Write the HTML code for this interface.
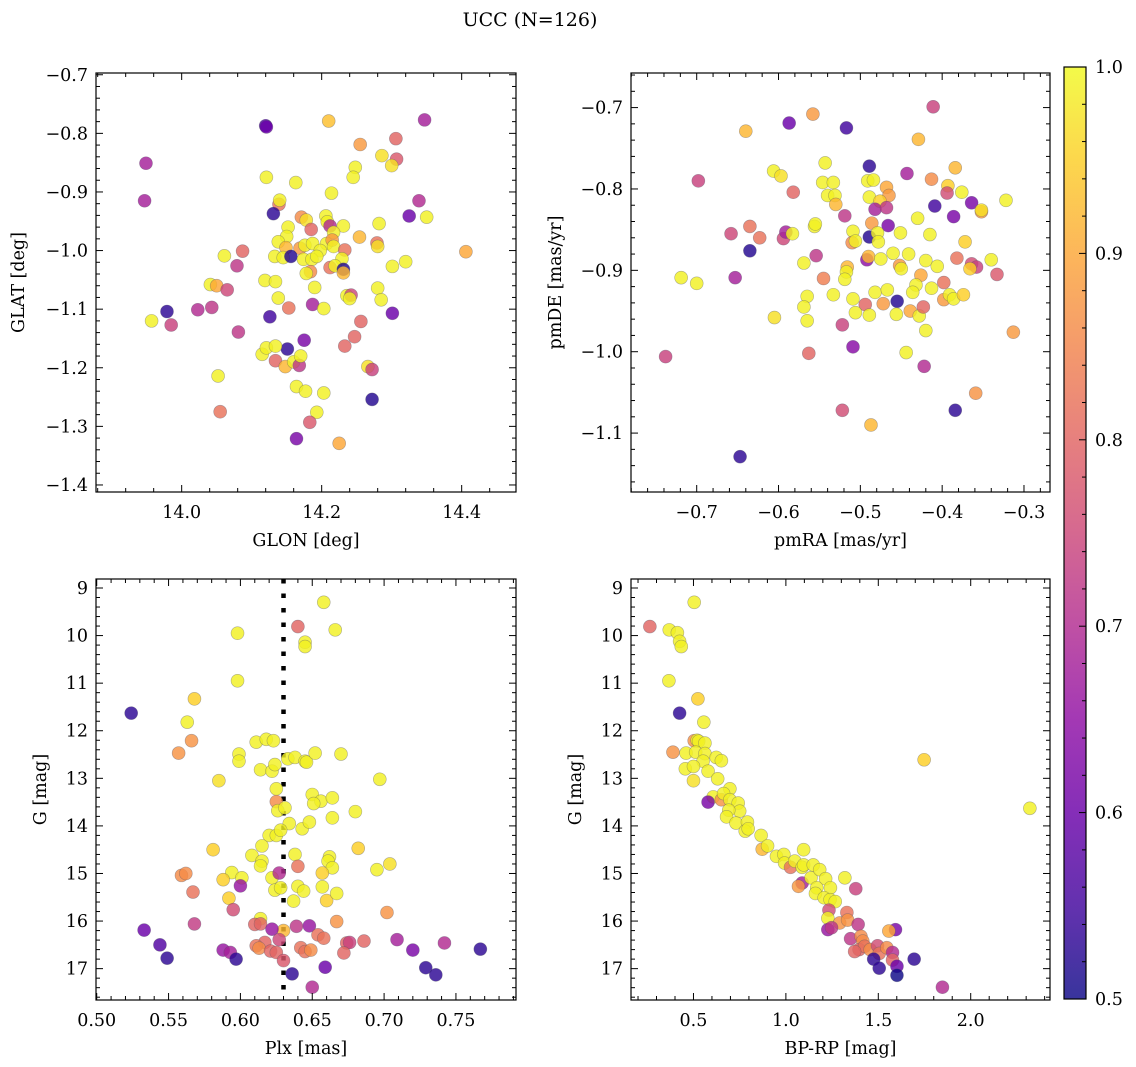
<!DOCTYPE html>
<html><head><meta charset="utf-8"><style>
html,body{margin:0;padding:0;background:#fff;}
svg{display:block;font-family:"DejaVu Serif","Liberation Serif",serif;}
</style></head><body>
<svg id="fig" width="1136" height="1067" viewBox="0 0 1136 1067" xmlns="http://www.w3.org/2000/svg">
<text x="530" y="26" font-size="19" text-anchor="middle">UCC (N=126)</text>
</svg>
<script>
// ---- Panel 1: GLON / GLAT ----
const glon = [14.120,14.121,14.210,14.347,13.949,13.947,14.255,14.306,14.307,14.286,14.300,14.248,14.245,14.121,14.163,14.214,14.139,14.140,14.131,14.339,14.325,14.350,14.171,14.178,14.185,14.206,14.208,14.212,14.231,14.282,14.152,14.150,14.217,14.254,14.138,14.149,14.169,14.176,14.187,14.207,14.215,14.217,14.279,14.280,14.233,14.198,14.087,14.061,14.406,14.133,14.145,14.156,14.174,14.186,14.193,14.229,14.079,14.301,14.320,14.212,14.219,14.231,14.231,14.184,14.178,14.119,14.134,14.041,14.050,14.065,14.190,14.280,14.138,14.236,14.242,14.240,14.285,13.979,14.023,14.043,14.153,14.187,14.203,14.301,13.957,13.985,14.126,14.256,14.081,14.175,14.151,14.115,14.121,14.134,14.233,14.247,14.134,14.148,14.160,14.168,14.170,14.266,14.272,14.052,14.164,14.177,14.203,14.272,14.055,14.193,14.183,14.164,14.225];
const glat = [-0.787,-0.789,-0.779,-0.777,-0.851,-0.915,-0.819,-0.809,-0.844,-0.838,-0.855,-0.858,-0.875,-0.875,-0.884,-0.902,-0.921,-0.914,-0.937,-0.915,-0.941,-0.943,-0.943,-0.948,-0.964,-0.941,-0.951,-0.958,-0.958,-0.954,-0.960,-0.976,-0.969,-0.977,-0.985,-0.995,-0.996,-0.991,-0.988,-0.988,-0.982,-0.993,-0.987,-0.993,-0.999,-1.000,-1.001,-1.009,-1.002,-1.010,-1.012,-1.010,-1.015,-1.015,-1.010,-1.014,-1.026,-1.027,-1.019,-1.029,-1.026,-1.032,-1.038,-1.036,-1.039,-1.051,-1.053,-1.058,-1.060,-1.067,-1.063,-1.064,-1.081,-1.077,-1.076,-1.082,-1.084,-1.104,-1.101,-1.097,-1.098,-1.092,-1.099,-1.107,-1.120,-1.127,-1.113,-1.121,-1.139,-1.153,-1.168,-1.177,-1.166,-1.163,-1.163,-1.147,-1.188,-1.198,-1.190,-1.196,-1.180,-1.198,-1.203,-1.214,-1.232,-1.240,-1.243,-1.254,-1.275,-1.276,-1.293,-1.321,-1.329];
const c1 = [0.57,0.60,0.93,0.68,0.68,0.68,0.88,0.80,0.78,0.97,0.97,0.99,0.99,0.99,0.99,0.99,0.82,0.99,0.53,0.70,0.60,0.99,0.86,0.97,0.80,0.99,0.99,0.70,0.99,0.99,0.99,0.99,0.99,0.92,0.99,0.92,0.88,0.99,0.99,0.99,0.88,0.99,0.82,0.97,0.82,0.99,0.80,0.99,0.90,0.99,0.99,0.52,0.99,0.99,0.99,0.99,0.72,0.99,0.99,0.82,0.99,0.52,0.92,0.86,0.99,0.99,0.99,0.99,0.90,0.75,0.99,0.99,0.99,0.99,0.75,0.99,0.99,0.53,0.70,0.72,0.82,0.68,0.99,0.60,0.99,0.74,0.55,0.80,0.72,0.62,0.53,0.99,0.99,0.99,0.80,0.80,0.80,0.92,0.99,0.72,0.99,0.97,0.74,0.99,0.99,0.99,0.99,0.52,0.82,0.99,0.78,0.62,0.90];

// ---- Panel 2: pmRA / pmDE ----
const pmra = [-0.411,-0.558,-0.587,-0.517,-0.640,-0.429,-0.543,-0.489,-0.443,-0.384,-0.698,-0.606,-0.597,-0.546,-0.533,-0.491,-0.484,-0.468,-0.465,-0.413,-0.393,-0.394,-0.376,-0.582,-0.540,-0.531,-0.530,-0.489,-0.476,-0.482,-0.468,-0.409,-0.364,-0.322,-0.352,-0.352,-0.519,-0.386,-0.430,-0.635,-0.658,-0.623,-0.594,-0.591,-0.583,-0.556,-0.555,-0.486,-0.466,-0.489,-0.509,-0.510,-0.506,-0.479,-0.478,-0.451,-0.415,-0.372,-0.635,-0.554,-0.569,-0.492,-0.490,-0.475,-0.460,-0.441,-0.452,-0.450,-0.420,-0.406,-0.382,-0.364,-0.358,-0.366,-0.340,-0.333,-0.719,-0.700,-0.653,-0.545,-0.516,-0.517,-0.519,-0.426,-0.398,-0.432,-0.436,-0.413,-0.398,-0.391,-0.386,-0.374,-0.565,-0.533,-0.509,-0.482,-0.467,-0.569,-0.494,-0.472,-0.455,-0.506,-0.489,-0.456,-0.439,-0.428,-0.423,-0.605,-0.565,-0.420,-0.313,-0.522,-0.509,-0.563,-0.444,-0.738,-0.422,-0.359,-0.522,-0.384,-0.487,-0.647];
const pmde = [-0.699,-0.708,-0.719,-0.725,-0.729,-0.739,-0.768,-0.772,-0.781,-0.774,-0.790,-0.778,-0.784,-0.792,-0.792,-0.790,-0.789,-0.798,-0.808,-0.788,-0.796,-0.805,-0.804,-0.804,-0.808,-0.808,-0.819,-0.810,-0.815,-0.825,-0.823,-0.821,-0.817,-0.814,-0.828,-0.826,-0.833,-0.834,-0.836,-0.846,-0.855,-0.860,-0.861,-0.853,-0.855,-0.846,-0.843,-0.842,-0.845,-0.859,-0.852,-0.866,-0.864,-0.854,-0.865,-0.854,-0.856,-0.865,-0.876,-0.882,-0.891,-0.887,-0.883,-0.886,-0.879,-0.880,-0.894,-0.898,-0.888,-0.895,-0.885,-0.892,-0.896,-0.898,-0.887,-0.905,-0.909,-0.916,-0.909,-0.910,-0.896,-0.902,-0.911,-0.906,-0.915,-0.918,-0.927,-0.922,-0.936,-0.930,-0.935,-0.930,-0.932,-0.930,-0.935,-0.927,-0.924,-0.945,-0.942,-0.941,-0.938,-0.952,-0.955,-0.954,-0.950,-0.956,-0.945,-0.958,-0.962,-0.974,-0.976,-0.967,-0.994,-1.002,-1.001,-1.006,-1.018,-1.051,-1.072,-1.072,-1.090,-1.129];
const c2 = [0.74,0.88,0.60,0.55,0.92,0.92,0.99,0.53,0.68,0.92,0.74,0.99,0.97,0.99,0.99,0.99,0.99,0.90,0.88,0.86,0.95,0.76,0.99,0.80,0.99,0.99,0.92,0.99,0.95,0.68,0.72,0.55,0.62,0.99,0.88,0.97,0.72,0.62,0.99,0.82,0.75,0.82,0.75,0.68,0.99,0.99,0.99,0.88,0.62,0.52,0.99,0.86,0.99,0.99,0.99,0.99,0.99,0.95,0.52,0.72,0.99,0.65,0.92,0.99,0.99,0.99,0.88,0.99,0.99,0.99,0.82,0.76,0.74,0.95,0.99,0.78,0.99,0.99,0.68,0.84,0.92,0.99,0.99,0.90,0.82,0.99,0.99,0.99,0.88,0.99,0.99,0.95,0.99,0.99,0.99,0.99,0.99,0.99,0.80,0.88,0.52,0.99,0.99,0.99,0.90,0.99,0.80,0.97,0.99,0.99,0.88,0.74,0.64,0.80,0.99,0.74,0.70,0.87,0.76,0.53,0.92,0.53];

// ---- Panel 3: Plx / G ----
const plx3 = [0.658,0.640,0.666,0.598,0.645,0.645,0.598,0.568,0.524,0.563,0.566,0.557,0.611,0.618,0.623,0.599,0.599,0.633,0.638,0.645,0.646,0.652,0.670,0.614,0.622,0.624,0.585,0.697,0.625,0.625,0.626,0.631,0.650,0.656,0.651,0.664,0.664,0.680,0.634,0.643,0.648,0.620,0.625,0.628,0.615,0.581,0.682,0.608,0.615,0.614,0.638,0.640,0.662,0.661,0.664,0.704,0.695,0.559,0.562,0.594,0.588,0.601,0.622,0.627,0.624,0.628,0.640,0.644,0.657,0.657,0.660,0.667,0.567,0.592,0.637,0.600,0.595,0.702,0.614,0.568,0.610,0.614,0.630,0.622,0.639,0.648,0.667,0.533,0.654,0.658,0.627,0.617,0.611,0.613,0.621,0.625,0.630,0.642,0.645,0.649,0.674,0.676,0.672,0.686,0.709,0.742,0.720,0.767,0.544,0.549,0.588,0.593,0.597,0.636,0.659,0.729,0.736,0.650];
const g3 = [9.30,9.81,9.88,9.95,10.14,10.23,10.95,11.33,11.63,11.82,12.21,12.47,12.24,12.18,12.21,12.49,12.64,12.59,12.56,12.64,12.66,12.47,12.49,12.82,12.85,12.71,13.05,13.02,13.22,13.49,13.68,13.62,13.34,13.48,13.53,13.41,13.83,13.70,13.95,14.06,13.92,14.20,14.20,14.09,14.42,14.50,14.47,14.62,14.74,14.84,14.60,14.85,14.65,14.74,14.88,14.80,14.92,15.04,15.00,14.98,15.13,15.09,15.09,14.99,15.35,15.30,15.27,15.37,14.99,15.28,15.57,15.42,15.39,15.52,15.58,15.26,15.76,15.82,15.95,16.06,16.07,16.06,16.20,16.17,16.11,16.10,16.01,16.19,16.29,16.36,16.39,16.45,16.52,16.57,16.63,16.66,16.83,16.56,16.64,16.61,16.46,16.45,16.67,16.42,16.39,16.46,16.61,16.59,16.50,16.78,16.61,16.66,16.80,17.11,16.97,16.98,17.13,17.39];
const c3 = [0.99,0.80,0.99,0.99,0.99,0.99,0.99,0.95,0.53,0.99,0.87,0.87,0.99,0.99,0.99,0.99,0.99,0.99,0.99,0.99,0.99,0.99,0.99,0.99,0.99,0.99,0.97,0.99,0.99,0.86,0.99,0.99,0.99,0.99,0.99,0.99,0.99,0.99,0.99,0.99,0.99,0.99,0.99,0.99,0.99,0.95,0.95,0.99,0.99,0.99,0.99,0.82,0.99,0.99,0.99,0.97,0.99,0.86,0.86,0.99,0.95,0.99,0.99,0.70,0.99,0.99,0.99,0.99,0.95,0.99,0.95,0.99,0.82,0.95,0.99,0.66,0.76,0.87,0.99,0.73,0.80,0.80,0.92,0.66,0.72,0.66,0.87,0.60,0.82,0.82,0.75,0.80,0.82,0.86,0.80,0.80,0.78,0.82,0.82,0.86,0.80,0.74,0.80,0.80,0.68,0.70,0.62,0.53,0.57,0.53,0.66,0.68,0.53,0.53,0.60,0.53,0.53,0.70];

// ---- Panel 4: BP-RP / G ----
const bprp4 = [0.504,0.264,0.369,0.413,0.425,0.434,0.367,0.524,0.425,0.556,0.504,0.520,0.528,0.562,0.389,0.460,0.512,0.562,0.552,0.623,0.651,0.456,0.500,0.579,0.500,0.631,0.697,0.607,0.651,0.579,0.663,0.697,0.742,0.750,0.691,0.679,0.730,0.792,0.780,0.796,0.866,0.872,0.901,0.949,0.989,1.096,0.993,1.025,1.048,1.088,1.088,1.068,1.096,1.148,1.136,1.183,1.215,1.319,1.167,1.241,1.378,1.160,1.207,1.239,1.267,1.233,1.227,1.330,1.291,1.334,1.391,1.227,1.247,1.593,1.557,1.350,1.406,1.416,1.396,1.426,1.456,1.496,1.505,1.546,1.577,1.577,1.475,1.505,1.601,1.601,1.694,1.847,1.748,2.320,1.372];
const g4 = [9.30,9.81,9.88,9.94,10.12,10.23,10.95,11.33,11.63,11.82,12.21,12.20,12.22,12.26,12.45,12.47,12.45,12.48,12.64,12.56,12.63,12.80,12.75,12.85,13.05,13.01,13.22,13.39,13.45,13.50,13.32,13.45,13.52,13.69,13.67,13.81,13.94,13.92,14.11,14.06,14.20,14.49,14.42,14.64,14.60,14.50,14.78,14.87,14.74,14.87,15.20,15.27,14.82,14.82,15.09,14.92,15.11,15.09,15.30,15.30,15.32,15.42,15.51,15.55,15.59,15.77,15.94,15.82,16.04,15.98,16.07,16.18,16.14,16.18,16.21,16.37,16.32,16.42,16.60,16.53,16.60,16.52,16.68,16.56,16.66,16.82,16.80,16.99,16.95,17.14,16.80,17.39,12.61,13.63,16.64];
const c4 = [0.99,0.80,0.99,0.99,0.99,0.99,0.99,0.95,0.53,0.99,0.87,0.99,0.99,0.99,0.87,0.99,0.99,0.99,0.99,0.99,0.99,0.99,0.99,0.99,0.97,0.99,0.99,0.99,0.87,0.62,0.99,0.99,0.99,0.99,0.99,0.99,0.99,0.99,0.99,0.99,0.99,0.92,0.99,0.99,0.99,0.99,0.99,0.82,0.99,0.99,0.68,0.88,0.99,0.99,0.99,0.99,0.99,0.99,0.99,0.99,0.74,0.99,0.99,0.99,0.99,0.76,0.99,0.82,0.87,0.87,0.72,0.66,0.72,0.62,0.90,0.72,0.86,0.86,0.80,0.82,0.86,0.76,0.82,0.86,0.70,0.80,0.53,0.53,0.60,0.50,0.53,0.70,0.95,0.99,0.80];

// colorbar ticks
const cbarTicks = [0.5,0.6,0.7,0.8,0.9,1.0];

const NS = "http://www.w3.org/2000/svg";
const svg = document.getElementById('fig');
const plasmaStops = ["#0d0887","#41049d","#6a00a8","#8f0da4","#b12a90","#cc4778","#e16462","#f2844b","#fca636","#fcce25","#f0f921"];
function hex(h){return [parseInt(h.substr(1,2),16),parseInt(h.substr(3,2),16),parseInt(h.substr(5,2),16)];}
function plasma(t){
  t=Math.max(0,Math.min(1,t));
  const f=t*10, i=Math.min(9,Math.floor(f)), r=f-i;
  const a=hex(plasmaStops[i]), b=hex(plasmaStops[i+1]);
  return 'rgb('+a.map((v,k)=>Math.round(v+(b[k]-v)*r)).join(',')+')';
}
function el(tag, attrs, parent){
  const e=document.createElementNS(NS,tag);
  for(const k in attrs) e.setAttribute(k,attrs[k]);
  (parent||svg).appendChild(e);
  return e;
}
function scale(d0,d1,r0,r1){return v=>r0+(v-d0)/(d1-d0)*(r1-r0);}
function fmt(v,dec){const s=Math.abs(v).toFixed(dec);return (v< -1e-9?'\u2212':'')+s;}
const FS=17.5;

function panel(cfg){
  const g=el('g',{});
  
  
  const sx=scale(cfg.xd[0],cfg.xd[1],cfg.x0,cfg.x1);
  const sy=scale(cfg.yd[0],cfg.yd[1],cfg.y0,cfg.y1);
  if(cfg.vline!==undefined){
    const ln=el('line',{x1:sx(cfg.vline),x2:sx(cfg.vline),y1:cfg.y0,y2:cfg.y1,stroke:'#000','stroke-width':4.5,'stroke-dasharray':'4.5 10'},g);
    
    
  }
  const pg=el('g',{},g);
  
  
  for(let i=0;i<cfg.xs.length;i++){
    const c=el('circle',{cx:sx(cfg.xs[i]),cy:sy(cfg.ys[i]),r:6.5,fill:plasma((cfg.cs[i]-0.5)/0.5),'fill-opacity':0.82,stroke:'#556','stroke-opacity':0.45,'stroke-width':0.6},pg);
    
    
  }
  const fr=el('rect',{x:cfg.x0,y:cfg.y0,width:cfg.x1-cfg.x0,height:cfg.y1-cfg.y0,fill:'none',stroke:'#000','stroke-width':1.2},g);
  
  
  const xlo=Math.min(cfg.xd[0],cfg.xd[1]), xhi=Math.max(cfg.xd[0],cfg.xd[1]);
  const ylo=Math.min(cfg.yd[0],cfg.yd[1]), yhi=Math.max(cfg.yd[0],cfg.yd[1]);
  const tk=el('g',{stroke:'#000','stroke-width':1},g);
  
  
  for(let v=Math.ceil(xlo/cfg.xminor-1e-6)*cfg.xminor; v<=xhi+1e-9; v+=cfg.xminor){
    const isMaj=Math.abs(v/cfg.xmajor-Math.round(v/cfg.xmajor))<1e-4;
    const L=isMaj?7:4, x=sx(v);
    el('line',{x1:x,x2:x,y1:cfg.y1,y2:cfg.y1-L},tk);
    el('line',{x1:x,x2:x,y1:cfg.y0,y2:cfg.y0+L},tk);
    if(isMaj){
      const t=el('text',{x:x,y:cfg.y1+26,'font-size':FS,'text-anchor':'middle',stroke:'none',fill:'#000'},g);
      
      
      t.textContent=fmt(Math.round(v/cfg.xmajor)*cfg.xmajor,cfg.xdec);
    }
  }
  for(let v=Math.ceil(ylo/cfg.yminor-1e-6)*cfg.yminor; v<=yhi+1e-9; v+=cfg.yminor){
    const isMaj=Math.abs(v/cfg.ymajor-Math.round(v/cfg.ymajor))<1e-4;
    const L=isMaj?7:4, y=sy(v);
    el('line',{x1:cfg.x0,x2:cfg.x0+L,y1:y,y2:y},tk);
    el('line',{x1:cfg.x1,x2:cfg.x1-L,y1:y,y2:y},tk);
    if(isMaj){
      const t=el('text',{x:cfg.x0-8,y:y+6,'font-size':FS,'text-anchor':'end',stroke:'none',fill:'#000'},g);
      
      
      t.textContent=fmt(Math.round(v/cfg.ymajor)*cfg.ymajor,cfg.ydec);
    }
  }
  const xl=el('text',{x:(cfg.x0+cfg.x1)/2,y:cfg.y1+54,'font-size':FS,'text-anchor':'middle'},g);
  
  
  xl.textContent=cfg.xlabel;
  const yl=el('text',{x:0,y:0,'font-size':FS,'text-anchor':'middle',transform:'translate('+cfg.ylx+','+(cfg.y0+cfg.y1)/2+') rotate(-90)'},g);
  
  
  yl.textContent=cfg.ylabel;
}

panel({name:'glon-glat-panel',x0:96,x1:516,y0:73,y1:492,xd:[13.8776,14.4776],yd:[-0.697,-1.412],
  xmajor:0.2,xminor:0.04,xdec:1,ymajor:0.1,yminor:0.02,ydec:1,xs:glon,ys:glat,cs:c1,
  xlabel:'GLON [deg]',ylabel:'GLAT [deg]',ylx:24});
panel({name:'pm-panel',x0:631,x1:1050,y0:73,y1:492,xd:[-0.7803,-0.2682],yd:[-0.6575,-1.1724],
  xmajor:0.1,xminor:0.02,xdec:1,ymajor:0.1,yminor:0.02,ydec:1,xs:pmra,ys:pmde,cs:c2,
  xlabel:'pmRA [mas/yr]',ylabel:'pmDE [mas/yr]',ylx:561});
panel({name:'plx-g-panel',x0:96,x1:516,y0:579,y1:1000,xd:[0.4995,0.7918],yd:[8.811,17.659],
  xmajor:0.05,xminor:0.01,xdec:2,ymajor:1,yminor:0.2,ydec:0,xs:plx3,ys:g3,cs:c3,vline:0.630,
  xlabel:'Plx [mas]',ylabel:'G [mag]',ylx:46});
panel({name:'cmd-panel',x0:631,x1:1050,y0:579,y1:1000,xd:[0.162,2.429],yd:[8.811,17.659],
  xmajor:0.5,xminor:0.1,xdec:1,ymajor:1,yminor:0.2,ydec:0,xs:bprp4,ys:g4,cs:c4,
  xlabel:'BP-RP [mag]',ylabel:'G [mag]',ylx:581});

(function(){
  const cx0=1064,cx1=1086,cy0=67,cy1=999;
  const defs=el('defs',{});
  const lg=el('linearGradient',{id:'plasmaGrad',x1:0,y1:1,x2:0,y2:0},defs);
  plasmaStops.forEach((c,i)=>el('stop',{offset:(i/10),'stop-color':c},lg));
  const cb=el('g',{});
  
  
  el('rect',{x:cx0,y:cy0,width:cx1-cx0,height:cy1-cy0,fill:'url(#plasmaGrad)','fill-opacity':0.82},cb);
  el('rect',{x:cx0,y:cy0,width:cx1-cx0,height:cy1-cy0,fill:'none',stroke:'#000','stroke-width':1.2},cb);
  const sy=scale(0.5,1.0,cy1,cy0);
  for(let v=0.5;v<=1.0001;v+=0.02){
    const y=sy(v);
    const maj=Math.abs(v*10-Math.round(v*10))<1e-4;
    el('line',{x1:cx1,x2:cx1-(maj?7:4),y1:y,y2:y,stroke:'#000','stroke-width':1},cb);
  }
  cbarTicks.forEach(v=>{
    const t=el('text',{x:cx1+9,y:sy(v)+6,'font-size':FS},cb);
    
    
    t.textContent=v.toFixed(1);
  });
})();
</script>
</body></html>
